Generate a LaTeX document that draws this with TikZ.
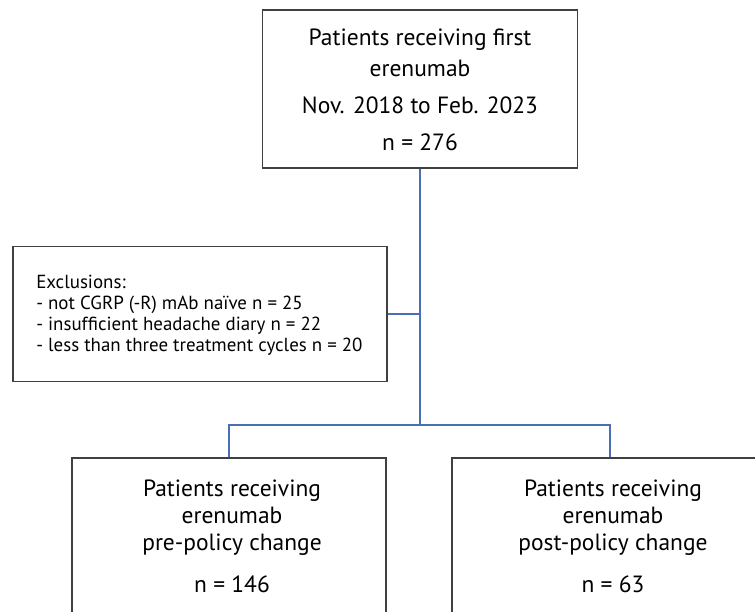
\documentclass[tikz,border=0pt]{standalone}
\usepackage{fontspec}
\setmainfont{PT Sans}
\definecolor{boxgray}{HTML}{404040}
\definecolor{connblue}{HTML}{4A6FB5}
\begin{document}
\begin{tikzpicture}[x=0.75pt,y=-0.75pt,
  box/.style={draw=boxgray,line width=1.1pt,inner sep=0pt,fill=white},
  conn/.style={draw=connblue,line width=1.1pt},
  big/.style={font=\fontsize{17.6}{20}\selectfont,anchor=base,inner sep=0pt},
  small/.style={font=\fontsize{14.2}{16}\selectfont,anchor=base west,inner sep=0pt}]
\clip (0,0) rectangle (755,611);
\fill[white] (0,0) rectangle (755,611);
% boxes
\node[box,minimum width=236.25pt,minimum height=118.5pt] (top) at (420,89) {};
\node[box,minimum width=280.5pt,minimum height=101.25pt] (excl) at (200,314) {};
\node[box,minimum width=235.5pt,minimum height=181.5pt] (bl) at (229,579) {};
\node[box,minimum width=261pt,minimum height=181.5pt] (br) at (626,579) {};
% top texts
\node[big] (t1) at (420,45) {Patients receiving first};
\node[big] (t2) at (420,76) {erenumab};
\node[big] (t3) at (420,113) {Nov. 2018 to Feb. 2023};
\node[big] (t4) at (420,150) {n = 276};
% exclusion texts
\node[small] (e1) at (36,288) {Exclusions:};
\node[small] (e2) at (36,309) {- not CGRP (-R) mAb naïve n = 25};
\node[small] (e3) at (36,330) {- insufficient headache diary n = 22};
\node[small] (e4) at (36,351) {- less than three treatment cycles n = 20};
% bottom-left texts
\node[big] (l1) at (232,496) {Patients receiving};
\node[big] (l2) at (232,523) {erenumab};
\node[big] (l3) at (232,550) {pre-policy change};
\node[big] (l4) at (232,592) {n = 146};
% bottom-right texts
\node[big] (r1) at (613,496) {Patients receiving};
\node[big] (r2) at (613,523) {erenumab};
\node[big] (r3) at (613,550) {post-policy change};
\node[big] (r4) at (613,592) {n = 63};
% connectors
\coordinate (split) at (420,425);
\coordinate (splitL) at (229,425);
\coordinate (splitR) at (610,425);
\draw[conn] (top.south) -- (split);
\draw[conn] (excl.east) -- (excl.east -| top.south);
\draw[conn] (splitL |- bl.north) -- (splitL) -- (splitR) -- (splitR |- br.north);
\end{tikzpicture}
\end{document}
